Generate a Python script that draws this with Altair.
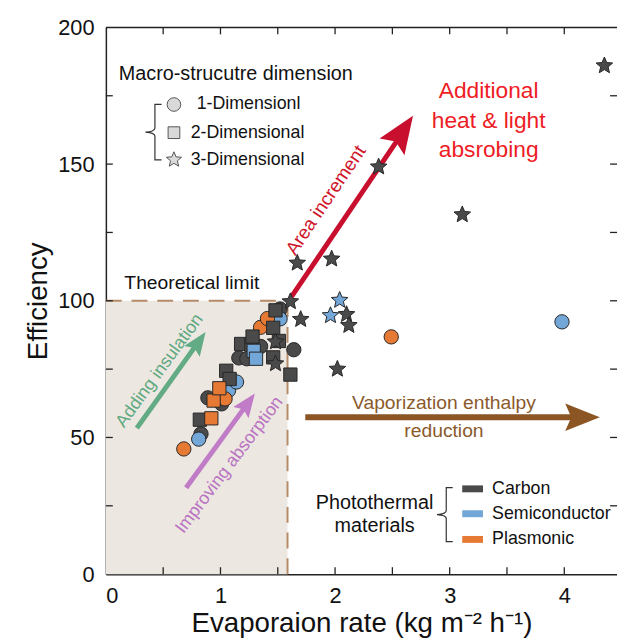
import altair as alt
import pandas as pd

# ---------------- data ----------------
carbon_1d_x = [0.83, 0.89, 1.01, 1.16, 1.23, 1.35, 1.52, 1.64]
carbon_1d_y = [51.3, 64.5, 62.3, 79.1, 78.8, 83.3, 97.0, 82.1]
carbon_2d_x = [0.82, 1.05, 1.08, 1.18, 1.27, 1.28, 1.46, 1.51, 1.46, 1.61, 1.48]
carbon_2d_y = [56.5, 74.4, 71.4, 84.2, 84.0, 86.9, 90.1, 85.3, 79.3, 73.0, 96.5]
carbon_3d_x = [1.48, 1.48, 1.61, 1.70, 1.67, 1.97, 2.38, 2.10, 2.12, 2.02, 3.11, 4.35]
carbon_3d_y = [85.0, 77.0, 99.7, 93.2, 113.8, 115.3, 149.0, 95.0, 91.0, 75.0, 131.5, 186.0]
semi_1d_x = [0.81, 1.07, 1.14, 1.52, 3.98]
semi_1d_y = [49.4, 67.2, 70.3, 93.4, 92.3]
semi_2d_x = [1.29, 1.31]
semi_2d_y = [81.7, 78.8]
semi_3d_x = [2.04, 1.96]
semi_3d_y = [100.2, 94.6]
plas_1d_x = [0.68, 1.04, 1.35, 1.41, 2.49]
plas_1d_y = [45.8, 64.1, 90.3, 93.5, 86.8]
plas_2d_x = [0.92, 0.94, 0.99]
plas_2d_y = [57.0, 63.5, 68.0]

materials = ["Carbon", "Semiconductor", "Plasmonic"]
material_colors = ["#4a4a4a", "#72a7d8", "#e67a35"]
dim_labels = ["1-Dimensionl", "2-Dimensional", "3-Dimensional"]

x_tick_labels = [0, 1, 2, 3, 4]
y_tick_labels = [0, 50, 100, 150, 200]
x_minor = [0.5, 1.0, 1.5, 2.0, 2.5, 3.0, 3.5, 4.0]
y_minor = [25, 50, 75, 100, 125, 150, 175]

limit_rate = 1.585
limit_eff = 100
XMAX = 4.46
YMAX = 200

FONT = "Liberation Sans"
one = pd.DataFrame({"a": [0]})

# five-pointed star outline (unit symbol path)
STAR = ("M0,-1L0.265,-0.364L0.951,-0.309L0.428,0.139L0.588,0.809L0,0.45"
        "L-0.588,0.809L-0.428,0.139L-0.951,-0.309L-0.265,-0.364Z")


def pts(mat, xs_, ys_):
    return pd.DataFrame({"rate": xs_, "eff": ys_, "material": [mat] * len(xs_)})


df_1d = pd.concat([pts("Carbon", carbon_1d_x, carbon_1d_y),
                   pts("Semiconductor", semi_1d_x, semi_1d_y),
                   pts("Plasmonic", plas_1d_x, plas_1d_y)], ignore_index=True)
df_2d = pd.concat([pts("Carbon", carbon_2d_x, carbon_2d_y),
                   pts("Semiconductor", semi_2d_x, semi_2d_y),
                   pts("Plasmonic", plas_2d_x, plas_2d_y)], ignore_index=True)
df_3d = pd.concat([pts("Carbon", carbon_3d_x, carbon_3d_y),
                   pts("Semiconductor", semi_3d_x, semi_3d_y)], ignore_index=True)

xs = alt.Scale(domain=[0, XMAX], nice=False, zero=False)
ys = alt.Scale(domain=[0, YMAX], nice=False, zero=False)
fill_scale = alt.Scale(domain=materials, range=material_colors)

x_axis = alt.Axis(orient="bottom", values=x_tick_labels, format="d", title="Evaporaion rate (kg m⁻² h⁻¹)",
                  labelFontSize=22, titleFontSize=28, labelPadding=12, titlePadding=3)
y_axis = alt.Axis(orient="left", values=y_tick_labels, format="d", title="Efficiency",
                  labelFontSize=22, titleFontSize=28, labelPadding=12, titlePadding=5)


def XD(v):
    return alt.XDatum(v, axis=None)


def YD(v):
    return alt.YDatum(v, axis=None)


NX = dict(axis=None)

# shaded region below the theoretical limit (carries the axes)
region_df = pd.DataFrame({"x0": [0], "x1": [limit_rate], "y0": [0], "y1": [limit_eff]})
region = alt.Chart(region_df).mark_rect(color="#ede7e2").encode(
    x=alt.X("x0:Q", scale=xs, axis=x_axis), x2="x1:Q",
    y=alt.Y("y0:Q", scale=ys, axis=y_axis), y2="y1:Q")

dash_col = "#b58c69"
hline = alt.Chart(one).mark_rule(color=dash_col, strokeWidth=2, strokeDash=[16, 10]).encode(
    x=XD(0), x2=alt.X2Datum(limit_rate), y=YD(limit_eff))
vline = alt.Chart(one).mark_rule(color=dash_col, strokeWidth=2, strokeDash=[16, 10]).encode(
    x=XD(limit_rate), y=YD(0), y2=alt.Y2Datum(limit_eff))

top_line = alt.Chart(one).mark_rule(color="#222", strokeWidth=1.5).encode(y=YD(YMAX))
xt = pd.DataFrame({"v": x_minor})
yt = pd.DataFrame({"v": y_minor})
tick_style = dict(color="#222", thickness=1.3, size=7, opacity=1)
bt = alt.Chart(xt).mark_tick(orient="vertical", yOffset=-3.5, **tick_style).encode(
    x=alt.X("v:Q", **NX), y=YD(0))
tt = alt.Chart(xt).mark_tick(orient="vertical", yOffset=3.5, **tick_style).encode(
    x=alt.X("v:Q", **NX), y=YD(YMAX))
lt = alt.Chart(yt).mark_tick(orient="horizontal", xOffset=3.5, **tick_style).encode(
    y=alt.Y("v:Q", **NX), x=XD(0))
rt = alt.Chart(yt).mark_tick(orient="horizontal", xOffset=-3.5, **tick_style).encode(
    y=alt.Y("v:Q", **NX), x=XD(XMAX))

# arrows: start, line end, tip (annotation geometry in data units)
head_path = "M0,0L0.8,2L0,1.65L-0.8,2Z"


def arrow(x0, y0, x1, y1, xt_, yt_, ang, col, w, hs):
    d = pd.DataFrame({"x0": [x0], "y0": [y0], "x1": [x1], "y1": [y1], "xt": [xt_], "yt": [yt_]})
    line = alt.Chart(d).mark_rule(strokeCap="butt", color=col, strokeWidth=w).encode(
        x=alt.X("x0:Q", **NX), y=alt.Y("y0:Q", **NX), x2="x1:Q", y2="y1:Q")
    head = alt.Chart(d).mark_point(shape=head_path, filled=True, opacity=1, strokeWidth=0,
                                   color=col, angle=ang, size=hs).encode(
        x=alt.X("xt:Q", **NX), y=alt.Y("yt:Q", **NX))
    return [line, head]


arrow_layers = (arrow(0.27, 53.4, 0.78, 83.3, 0.87, 88.6, 35, "#63ab85", 5, 576)
                + arrow(0.70, 31.6, 1.21, 60.9, 1.30, 66.1, 36, "#c07cc6", 5, 576)
                + arrow(1.62, 101.5, 2.55, 159.1, 2.68, 167.7, 34, "#c8102e", 5, 1444)
                + arrow(1.74, 57.4, 4.10, 57.4, 4.31, 57.4, 90, "#8b5524", 6, 1225))

# data points
pt_style = dict(filled=True, opacity=1, stroke="#262626", strokeWidth=1)


def pts_layer(d, shape, size):
    return alt.Chart(d).mark_point(shape=shape, size=size, **pt_style).encode(
        x=alt.X("rate:Q", **NX), y=alt.Y("eff:Q", **NX),
        fill=alt.Fill("material:N", scale=fill_scale, legend=None))


p1 = pts_layer(df_1d, "circle", 210)
p2 = pts_layer(df_2d, "square", 180)
p3 = pts_layer(df_3d, STAR, 310)

# legend: macro-structure dimension
leg_style = dict(filled=True, opacity=1, fill="#d9d9d9", stroke="#555", strokeWidth=1)
leg_x = 0.594
leg_y = [171.8, 161.5, 151.6]


def leg_pt(y, shape, size):
    return alt.Chart(pd.DataFrame({"x": [leg_x], "y": [y]})).mark_point(shape=shape, size=size, **leg_style).encode(
        x=alt.X("x:Q", **NX), y=alt.Y("y:Q", **NX))


l1 = leg_pt(leg_y[0], "circle", 190)
l2 = leg_pt(leg_y[1], "square", 140)
l3 = leg_pt(leg_y[2], STAR, 260)
leg_dim = pd.DataFrame({"label": dim_labels, "tx": [0.792, 0.74, 0.74], "ly": leg_y})
leg_txt = alt.Chart(leg_dim).mark_text(align="left", baseline="middle", font=FONT, fontSize=18, color="#111").encode(
    x=alt.X("tx:Q", **NX), y=alt.Y("ly:Q", **NX), text="label:N")

# legend: photothermal materials
leg_mat = pd.DataFrame({"material": materials, "sx": [3.20] * 3, "sy": [31.2, 22.1, 12.7], "tx": [3.37] * 3})
swatch = alt.Chart(leg_mat).mark_point(shape="M-1.5,-0.5L1.5,-0.5L1.5,0.5L-1.5,0.5Z", filled=True,
                                        opacity=1, size=196, strokeWidth=0).encode(
    x=alt.X("sx:Q", **NX), y=alt.Y("sy:Q", **NX), fill=alt.Fill("material:N", scale=fill_scale, legend=None))
mat_txt = alt.Chart(leg_mat).mark_text(align="left", baseline="middle", font=FONT, fontSize=18, color="#111").encode(
    x=alt.X("tx:Q", **NX), y=alt.Y("sy:Q", **NX), text="material:N")

# brackets
bracket_path = "M0.24,-1L0,-1L0,-0.15Q0,-0.02,-0.34,0Q0,0.02,0,0.15L0,1L0.24,1"
br_style = dict(shape=bracket_path, filled=False, stroke="#333", strokeWidth=1.2, opacity=1)


def bracket(x, y, size):
    return alt.Chart(pd.DataFrame({"x": [x], "y": [y]})).mark_point(size=size, **br_style).encode(
        x=alt.X("x:Q", **NX), y=alt.Y("y:Q", **NX))


b1 = bracket(0.428, 161.7, 3136)
b2 = bracket(2.97, 21.8, 2981)


def note(texts, xs_, ys_, color, size, angle=0, align="center"):
    d = pd.DataFrame({"t": texts, "x": xs_, "y": ys_})
    return alt.Chart(d).mark_text(align=align, baseline="middle", font=FONT, fontSize=size,
                                  color=color, angle=angle).encode(
        x=alt.X("x:Q", **NX), y=alt.Y("y:Q", **NX), text="t:N")


notes = [
    note(["Theoretical limit"], [0.75], [106.4], "#111", 19.5),
    note(["Area increment"], [1.92], [136.8], "#d0152b", 19, 304),
    note(["Adding insulation"], [0.47], [74.4], "#5ea97f", 18, 306),
    note(["Improving absorption"], [1.08], [39.9], "#b873c1", 18, 307),
    note(["Additional", "heat & light", "absrobing"], [3.34] * 3, [176.8, 165.9, 155.0], "#ee1c25", 23),
    note(["Vaporization enthalpy", "reduction"], [2.95] * 2, [62.5, 52.4], "#8b5a2b", 19.5),
    note(["Photothermal", "materials"], [2.345] * 2, [26.0, 17.5], "#111", 20),
    note(["Macro-strucutre dimension"], [0.113], [183.0], "#111", 20, 0, "left"),
]

chart = alt.layer(
    region, hline, vline, top_line, bt, tt, lt, rt,
    *arrow_layers, p1, p2, p3,
    b1, b2, l1, l2, l3, leg_txt, swatch, mat_txt, *notes,
).resolve_axis(x="independent", y="independent").properties(
    width=517, height=553,
    padding={"left": 99, "top": 16, "right": 0, "bottom": 66},
    autosize=alt.AutoSizeParams(type="none"),
).configure_view(strokeWidth=0).configure_axis(
    labelFont=FONT, titleFont=FONT, titleFontWeight="normal", labelColor="#111", titleColor="#111",
    domainColor="#222", domainWidth=1.5, ticks=False, grid=False,
)

chart.save("out.html", embed_options={"renderer": "svg", "actions": False})
